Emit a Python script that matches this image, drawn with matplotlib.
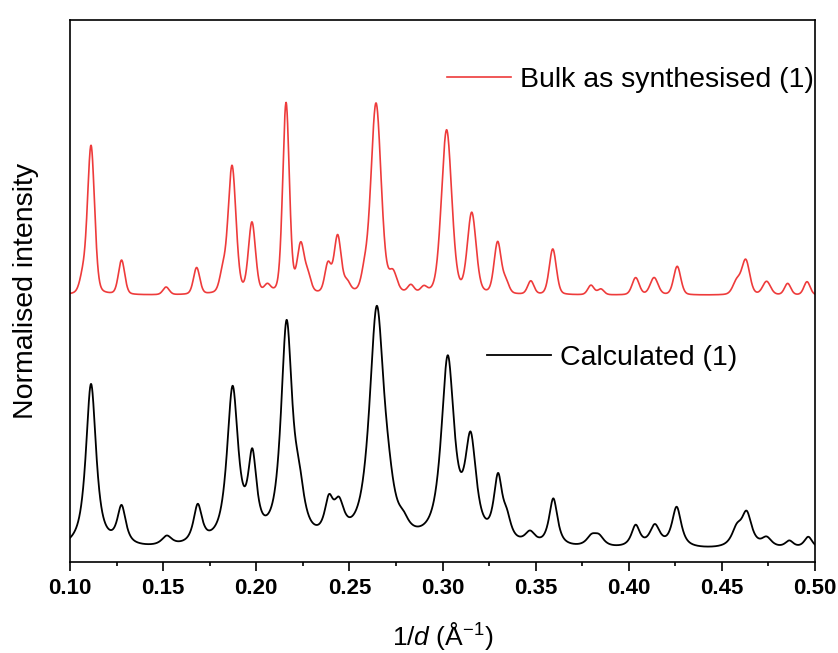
import numpy as np
import matplotlib
matplotlib.use("Agg")
import matplotlib.pyplot as plt
from matplotlib.ticker import MultipleLocator

plt.rcParams['font.family'] = ['Liberation Sans', 'DejaVu Sans']
plt.rcParams['mathtext.fontset'] = 'custom'
plt.rcParams['mathtext.rm'] = 'Liberation Sans'
plt.rcParams['mathtext.it'] = 'Liberation Sans:italic'

# Peak tables: position (1/d, Å^-1), relative intensity (%), FWHM (Å^-1)
calc_pos = [0.1113, 0.1277, 0.152, 0.1686, 0.1873, 0.1979, 0.2163, 0.223, 0.239,
            0.2444, 0.2647, 0.271, 0.279, 0.3028, 0.3151, 0.3298, 0.3345, 0.347,
            0.3595, 0.380, 0.384, 0.4037, 0.414, 0.4257, 0.458, 0.4633, 0.474,
            0.4862, 0.4964]
calc_int = [69, 16, 4, 16, 65, 33, 91, 16, 14,
            13, 98, 9, 4, 77, 41, 26, 8, 5,
            20, 4, 4, 9, 9, 17, 7, 14, 4,
            3, 5]
calc_fwhm = [0.0066, 0.0055, 0.0066, 0.0055, 0.0072, 0.0055, 0.0072, 0.0066, 0.0055,
             0.0066, 0.0094, 0.0077, 0.0066, 0.0083, 0.0072, 0.0055, 0.0055, 0.0066,
             0.0055, 0.0066, 0.0066, 0.0055, 0.0066, 0.0060, 0.0066, 0.0066, 0.0066,
             0.0055, 0.0055]

bulk_pos = [0.1068, 0.1113, 0.1277, 0.1516, 0.168, 0.182, 0.187, 0.1977, 0.206,
            0.216, 0.2239, 0.2278, 0.2385, 0.2437, 0.2488, 0.258, 0.2643, 0.2734,
            0.283, 0.290, 0.3022, 0.3157, 0.3296, 0.334, 0.3474, 0.3592, 0.3797,
            0.385, 0.4037, 0.4136, 0.426, 0.458, 0.4628, 0.474, 0.4853, 0.4957]
bulk_int = [8, 78, 18, 4, 14, 10, 67, 37, 4,
            100, 25, 8, 15, 30, 5, 8, 100, 10,
            4, 3, 86, 42, 27, 6, 7, 24, 5,
            3, 9, 9, 15, 7, 18, 7, 6, 7]
bulk_fwhm = [0.004, 0.0045, 0.004, 0.004, 0.004, 0.004, 0.005, 0.0045, 0.004,
             0.0042, 0.0045, 0.004, 0.004, 0.0045, 0.004, 0.004, 0.0065, 0.005,
             0.004, 0.004, 0.0065, 0.0055, 0.0045, 0.004, 0.004, 0.0045, 0.004,
             0.004, 0.0045, 0.005, 0.0045, 0.005, 0.005, 0.005, 0.004, 0.004]

x_ticks = [0.10, 0.15, 0.20, 0.25, 0.30, 0.35, 0.40, 0.45, 0.50]


def pattern(x, pos, inten, fwhm, eta):
    y = np.zeros_like(x)
    for p, h, w in zip(pos, inten, fwhm):
        u = (x - p) / w
        lor = 1.0 / (1.0 + 4.0 * u ** 2)
        gau = np.exp(-4.0 * np.log(2) * u ** 2)
        y += h * (eta * lor + (1 - eta) * gau)
    return y


x = np.linspace(0.10, 0.50, 3000)
calc = 0.022 + 0.439 * pattern(x, calc_pos, calc_int, calc_fwhm, 0.85) / 100
bulk = 0.492 + 0.352 * pattern(x, bulk_pos, bulk_int, bulk_fwhm, 0.25) / 100

fig = plt.figure(figsize=(8.38, 6.53), dpi=100)
ax = fig.add_axes([0.0835, 0.1394, 0.8891, 0.8300])

l_bulk, = ax.plot(x, bulk, color='#EE3B3B', lw=1.2)
l_calc, = ax.plot(x, calc, color='black', lw=1.3)

ax.set_xlim(0.10, 0.50)
ax.set_ylim(0, 1)
ax.set_yticks([])
ax.set_xticks(x_ticks)
ax.xaxis.set_minor_locator(MultipleLocator(0.025))
ax.tick_params(axis='x', which='major', direction='out', length=6.5, width=1.2, pad=5)
ax.tick_params(axis='x', which='minor', direction='out', length=3.2, width=1.2)
ax.set_xticklabels([f"{t:.2f}" for t in x_ticks],
                   family=['Liberation Sans Narrow', 'Liberation Sans'],
                   fontweight='bold', fontsize=16)
for s in ax.spines.values():
    s.set_linewidth(1.2)

ax.set_xlabel(r"1/$d$ (Å$^{-1}$)", fontsize=19, labelpad=15)
ax.set_ylabel("Normalised intensity", fontsize=20.5, labelpad=22)

leg1 = ax.legend([l_bulk], ["Bulk as synthesised (1)"], loc='center left',
                 bbox_to_anchor=(0.506, 0.889), frameon=False, fontsize=20.5,
                 handlelength=2.25, handletextpad=0.3, borderpad=0, borderaxespad=0)
ax.add_artist(leg1)
ax.legend([l_calc], ["Calculated (1)"], loc='center left',
          bbox_to_anchor=(0.560, 0.376), frameon=False, fontsize=20.5,
          handlelength=2.25, handletextpad=0.3, borderpad=0, borderaxespad=0)

fig.savefig("out.png", dpi=100)
